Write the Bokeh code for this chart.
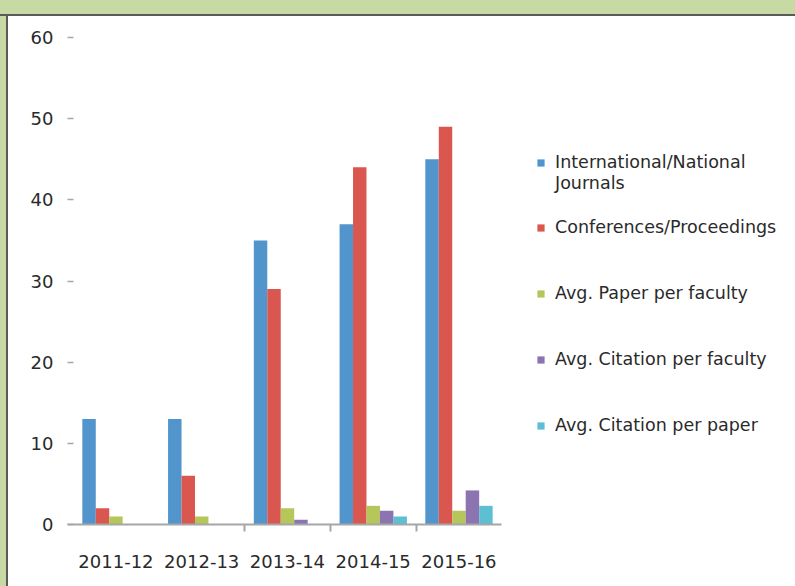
from bokeh.plotting import figure
from bokeh.models import (ColumnDataSource, Range1d, LinearAxis, FixedTicker,
                          Legend, LegendItem, Div)
from bokeh.layouts import column, row
from bokeh.transform import dodge
from bokeh.embed import file_html
from bokeh.resources import INLINE

# ---- data ----
categories = ["2011-12", "2012-13", "2013-14", "2014-15", "2015-16"]
series_names = ["International/National", "Conferences/Proceedings",
                "Avg. Paper per faculty", "Avg. Citation per faculty",
                "Avg. Citation per paper"]
series_name_line2 = "Journals"
journals = [13, 13, 35, 37, 45]
conferences = [2, 6, 29, 44, 49]
avg_paper_per_faculty = [1, 1, 2, 2.3, 1.7]
avg_citation_per_faculty = [0, 0, 0.6, 1.7, 4.2]
avg_citation_per_paper = [0, 0, 0, 1, 2.3]
y_ticks = [0, 10, 20, 30, 40, 50, 60]

colors = ["#5294cc", "#d9574f", "#b5c65a", "#8b74b0", "#5cbfd2"]
FONT = "DejaVu Sans"
TXT = "#2a2a2a"
BG_GREEN = "#c8daa4"
EDGE = "2px solid #5a5a5a"

n = len(categories)
xc = [i + 0.5 for i in range(n)]
cols = ["s0", "s1", "s2", "s3", "s4"]
src = ColumnDataSource(dict(x=xc, s0=journals, s1=conferences,
                            s2=avg_paper_per_faculty, s3=avg_citation_per_faculty,
                            s4=avg_citation_per_paper))

STRIP = 8
TOPBAND = 16
W, H = 795 - STRIP, 586 - TOPBAND
LEFT = 67 - STRIP
CAT_PX = 85.75          # pixel width of one category slot
X0 = -5.6 / CAT_PX      # small gap between value axis and first slot
frame_w = W - LEFT
x_end = X0 + frame_w / CAT_PX

p = figure(width=W, height=H, x_range=Range1d(X0, x_end),
           y_range=Range1d(0, 60), output_backend="svg", toolbar_location=None,
           x_axis_type=None, y_axis_type=None,
           min_border_left=LEFT, min_border_right=0, min_border_top=37 - TOPBAND,
           min_border_bottom=62)
p.grid.visible = False
p.outline_line_color = None
p.background_fill_color = "white"
p.border_fill_color = "white"

bw = 0.157
renderers = []
for k, (c, col) in enumerate(zip(colors, cols)):
    r = p.vbar(x=dodge("x", (k - 2) * bw), top=col, width=bw, source=src,
               fill_color=c, line_color=None)
    renderers.append(r)

xaxis = LinearAxis(ticker=FixedTicker(ticks=xc, minor_ticks=[2, 3, 4]),
                   major_label_overrides={float(v): lab for v, lab in zip(xc, categories)},
                   bounds=(X0, n))
xaxis.axis_line_color = "#a6a6a6"
xaxis.axis_line_width = 2
xaxis.major_tick_line_color = None
xaxis.major_tick_in = 0
xaxis.major_tick_out = 0
xaxis.minor_tick_line_color = "#a6a6a6"
xaxis.minor_tick_line_width = 2
xaxis.minor_tick_in = 0
xaxis.minor_tick_out = 7
xaxis.major_label_standoff = 23
xaxis.major_label_text_font = FONT
xaxis.major_label_text_font_size = "18px"
xaxis.major_label_text_color = TXT
p.add_layout(xaxis, "below")

yaxis = LinearAxis(ticker=FixedTicker(ticks=y_ticks))
yaxis.axis_line_color = None
yaxis.major_tick_line_color = "#a6a6a6"
yaxis.major_tick_line_width = 1.5
yaxis.major_tick_in = 6
yaxis.major_tick_out = 0
yaxis.minor_tick_line_color = None
yaxis.major_label_standoff = 14
yaxis.major_label_text_font = FONT
yaxis.major_label_text_font_size = "18px"
yaxis.major_label_text_color = TXT
p.add_layout(yaxis, "left")

leg_style = dict(padding=0, margin=0, glyph_width=9, glyph_height=9,
                 label_standoff=10, label_text_font=FONT,
                 label_text_font_size="17.5px", label_text_color=TXT,
                 border_line_color=None, background_fill_alpha=0)

LEG_X = 469
legend_a = Legend(items=[LegendItem(label=series_names[0], renderers=[renderers[0]])],
                  location=(LEG_X, 352), **leg_style)
leg_c_style = dict(leg_style, glyph_width=0, label_standoff=0)
legend_c = Legend(items=[LegendItem(label=series_name_line2, renderers=[renderers[0]])],
                  location=(LEG_X + 19, 331), **leg_c_style)
legend_b = Legend(items=[LegendItem(label=nm, renderers=[r])
                         for nm, r in zip(series_names[1:], renderers[1:])],
                  location=(LEG_X, 89), spacing=46, **leg_style)
for lg in (legend_a, legend_c, legend_b):
    p.add_layout(lg, "center")

top = Div(width=795, height=TOPBAND, margin=0,
          styles={"background-color": BG_GREEN, "border-bottom": EDGE,
                  "box-sizing": "border-box"})
side = Div(width=STRIP, height=H, margin=0,
           styles={"background-color": BG_GREEN, "border-right": EDGE,
                   "box-sizing": "border-box"})
layout = column(top, row(side, p, spacing=0), spacing=0)

open("out.html", "w").write(file_html(layout, INLINE))
